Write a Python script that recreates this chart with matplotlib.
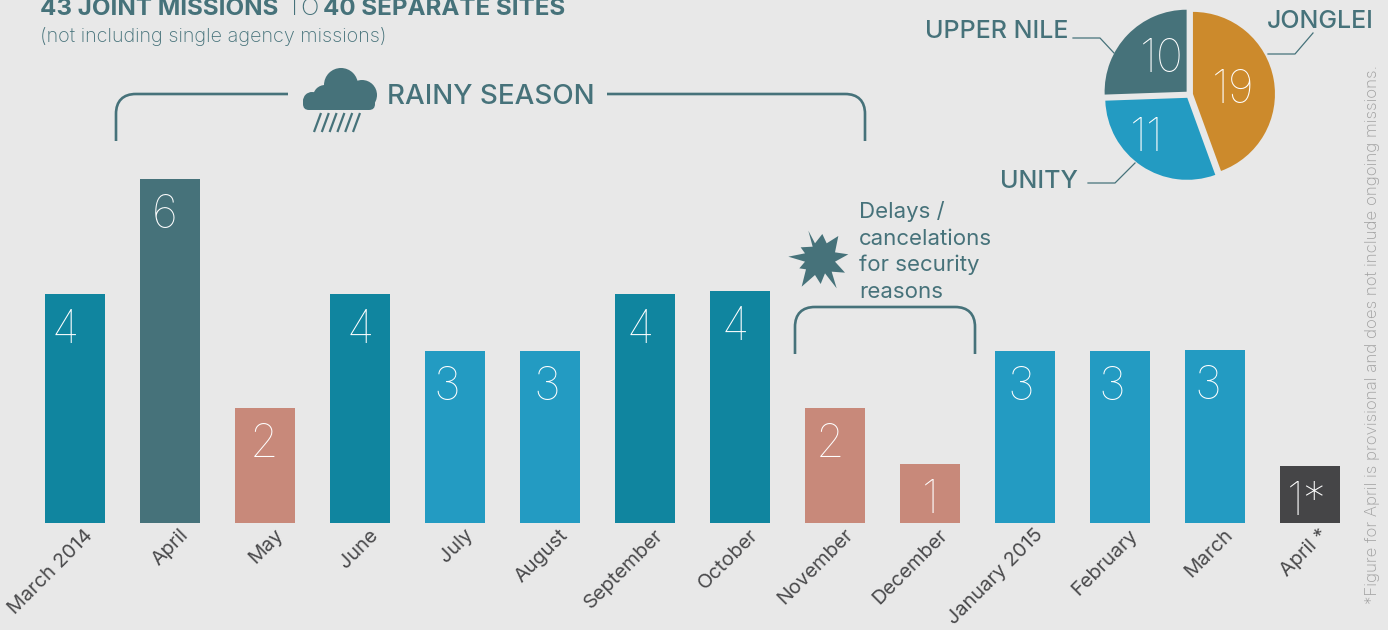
import numpy as np
import matplotlib
matplotlib.use("Agg")
import matplotlib.pyplot as plt
from matplotlib.patches import Circle, FancyBboxPatch, PathPatch, Polygon
from matplotlib.path import Path
from matplotlib.transforms import ScaledTranslation

months = ["March 2014", "April", "May", "June", "July", "August", "September",
          "October", "November", "December", "January 2015", "February", "March", "April *"]
missions = [4, 6, 2, 4, 3, 3, 4, 4.05, 2, 1.03, 3, 3, 3.02, 1]
mission_labels = ["4", "6", "2", "4", "3", "3", "4", "4", "2", "1", "3", "3", "3", "1*"]

states = ["JONGLEI", "UNITY", "UPPER NILE"]
state_missions = ["19", "11", "10"]
# arc of each slice as drawn, in degrees (the picture is not strictly proportional)
state_arcs = [160, 108, 92]

BG = "#E8E8E8"
TEAL = "#10859F"
BLUE = "#239BC2"
SLATE = "#46727A"
SALMON = "#C8897A"
DARK = "#454547"
ORANGE = "#CC8A2C"
TEXT = "#4A4A4C"
FONT = "Inter"

bar_colors = [TEAL, SLATE, SALMON, TEAL, BLUE, BLUE, TEAL, TEAL, SALMON, SALMON, BLUE, BLUE, BLUE, DARK]
label_nudge = [-10, -5, -1, 0, -8, -3, -5, -5, -5, 0, -4, -8, -7, -3]

W, H = 1388, 630
UNIT = 57.3  # px per mission
STEP = 95.0  # px between bars
X0, Y0 = 75.0, 523.0

fig = plt.figure(figsize=(W / 100, H / 100), dpi=100, facecolor=BG)

ax = fig.add_axes([0, 0, 1, 1], facecolor=BG)
ax.set_xlim(-X0 / STEP, (W - X0) / STEP)
ax.set_ylim(-(H - Y0) / UNIT, Y0 / UNIT)
x = np.arange(len(months))
ax.bar(x, missions, width=60 / STEP, color=bar_colors, linewidth=0)
for s in ax.spines.values():
    s.set_visible(False)
ax.spines["bottom"].set_position(("data", 0))
ax.tick_params(axis="both", length=0)
ax.set_yticks([])
ax.set_xticks(x)
ax.set_xticklabels(months, rotation=45, ha="right", va="top", rotation_mode="anchor",
                   fontsize=14.4, color=TEXT, family=FONT, fontweight="normal")
shift = ScaledTranslation(9 / 100, 2 / 100, fig.dpi_scale_trans)
for lab in ax.get_xticklabels():
    lab.set_transform(lab.get_transform() + shift)

for i, (v, lab) in enumerate(zip(missions, mission_labels)):
    ax.text(i + label_nudge[i] / STEP, v - 37 / UNIT, lab, color="white", fontsize=33,
            family=FONT, fontweight="ultralight", ha="center", va="center")

# overlay in image pixels for brackets, icons and notes
ov = fig.add_axes([0, 0, 1, 1], facecolor="none")
ov.set_xlim(0, W)
ov.set_ylim(H, 0)
ov.axis("off")
ov.set_zorder(5)


def bracket(x_left, x_right, y_top, y_bottom, gap=None, r=20):
    k = r * 0.35
    left = [(x_left, y_bottom), (x_left, y_top + r), (x_left, y_top + k), (x_left + k, y_top), (x_left + r, y_top)]
    right = [(x_right - r, y_top), (x_right - k, y_top), (x_right, y_top + k), (x_right, y_top + r), (x_right, y_bottom)]
    lc = [Path.MOVETO, Path.LINETO, Path.CURVE4, Path.CURVE4, Path.CURVE4]
    rc = [Path.CURVE4, Path.CURVE4, Path.CURVE4, Path.LINETO]
    if gap:
        verts = left + [(gap[0], y_top), (gap[1], y_top)] + right
        codes = lc + [Path.LINETO, Path.MOVETO, Path.LINETO] + rc
    else:
        verts = left + right
        codes = lc + [Path.LINETO] + rc
    ov.add_patch(PathPatch(Path(verts, codes), fill=False, edgecolor=SLATE, linewidth=1.9, capstyle="butt"))


bracket(116, 865, 94, 141, gap=(288, 607))
bracket(795, 975, 307, 354)

# rain cloud
ov.add_patch(Circle((341, 85), 17, color=SLATE, lw=0))
ov.add_patch(Circle((362, 95), 15, color=SLATE, lw=0))
ov.add_patch(Circle((325, 97), 12, color=SLATE, lw=0))
ov.add_patch(Circle((312, 101), 9, color=SLATE, lw=0))
ov.add_patch(FancyBboxPatch((303, 97), 72, 13, boxstyle="round,pad=0,rounding_size=6", color=SLATE, lw=0))
for rx in [314, 321.8, 329.6, 337.4, 345.2, 353]:
    ov.plot([rx, rx + 7], [132, 113], color=SLATE, lw=1.6, solid_capstyle="butt")

# burst
burst = [(115, 122), (135, 160), (157, 132), (170, 160), (205, 138), (195, 187), (235, 193), (195, 215),
         (225, 248), (185, 245), (200, 295), (165, 250), (152, 282), (135, 255), (95, 290), (108, 238),
         (88, 235), (105, 215), (55, 200), (105, 190), (92, 172), (128, 170)]
ov.add_patch(Polygon([(770 + a / 3, 190 + b / 3) for a, b in burst], closed=True, color=SLATE, lw=0))

# headings
ov.text(40, 15, "43 JOINT MISSIONS", color=SLATE, fontsize=17.4, family=FONT, fontweight="bold", va="baseline")
ov.text(287, 15, "TO", color=SLATE, fontsize=17.4, family=FONT, fontweight="light", va="baseline")
ov.text(323, 15, "40 SEPARATE SITES", color=SLATE, fontsize=17.4, family=FONT, fontweight="bold", va="baseline")
ov.text(40, 36, "(not including single agency missions)", color=SLATE, fontsize=14.3, family=FONT,
        fontweight="light", va="center")
ov.text(387, 97, "RAINY SEASON", color=SLATE, fontsize=20, family=FONT, fontweight="medium", va="center")
for yy, line in zip([212, 239, 265, 292], ["Delays /", "cancelations", "for security", "reasons"]):
    ov.text(859, yy, line, color=SLATE, fontsize=16, family=FONT, fontweight="normal", va="center")

ov.text(1373, 334, "*Figure for April is provisional and does not include ongoing missions.", color="#A0A0A0",
        fontsize=12.2, family=FONT, fontweight="light", rotation=90, ha="center", va="center")

# pie
cx, cy, R = 1189.5, 94.5, 82.0
pw = 2 * 1.25 * R
pax = fig.add_axes([(cx - pw / 2) / W, 1 - (cy + pw / 2) / H, pw / W, pw / H], facecolor="none")
pax.pie(state_arcs, colors=[ORANGE, BLUE, SLATE], startangle=90, counterclock=False,
        explode=[3.5 / R, 4 / R, 4 / R], radius=1, wedgeprops={"linewidth": 0})
pax.set_xlim(-1.25, 1.25)
pax.set_ylim(-1.25, 1.25)

for (nx, ny), num in zip([(1232.7, 91), (1146.7, 139), (1161.7, 60)], state_missions):
    ov.text(nx, ny, num, color="white", fontsize=33, family=FONT, fontweight="ultralight", ha="center", va="center")
for (nx, ny), st in zip([(1374, 21), (1078, 182), (1068, 32)], states):
    ov.text(nx, ny, st, color=SLATE, fontsize=18, family=FONT, fontweight="medium", ha="right", va="center")
for pts in ([(1268, 54), (1295, 54), (1313, 33)], [(1088, 183), (1115, 183), (1135, 163)],
            [(1073, 38), (1100, 38), (1114, 53)]):
    ov.plot(*zip(*pts), color=SLATE, lw=0.9)

fig.savefig("out.png", dpi=100, facecolor=BG)
